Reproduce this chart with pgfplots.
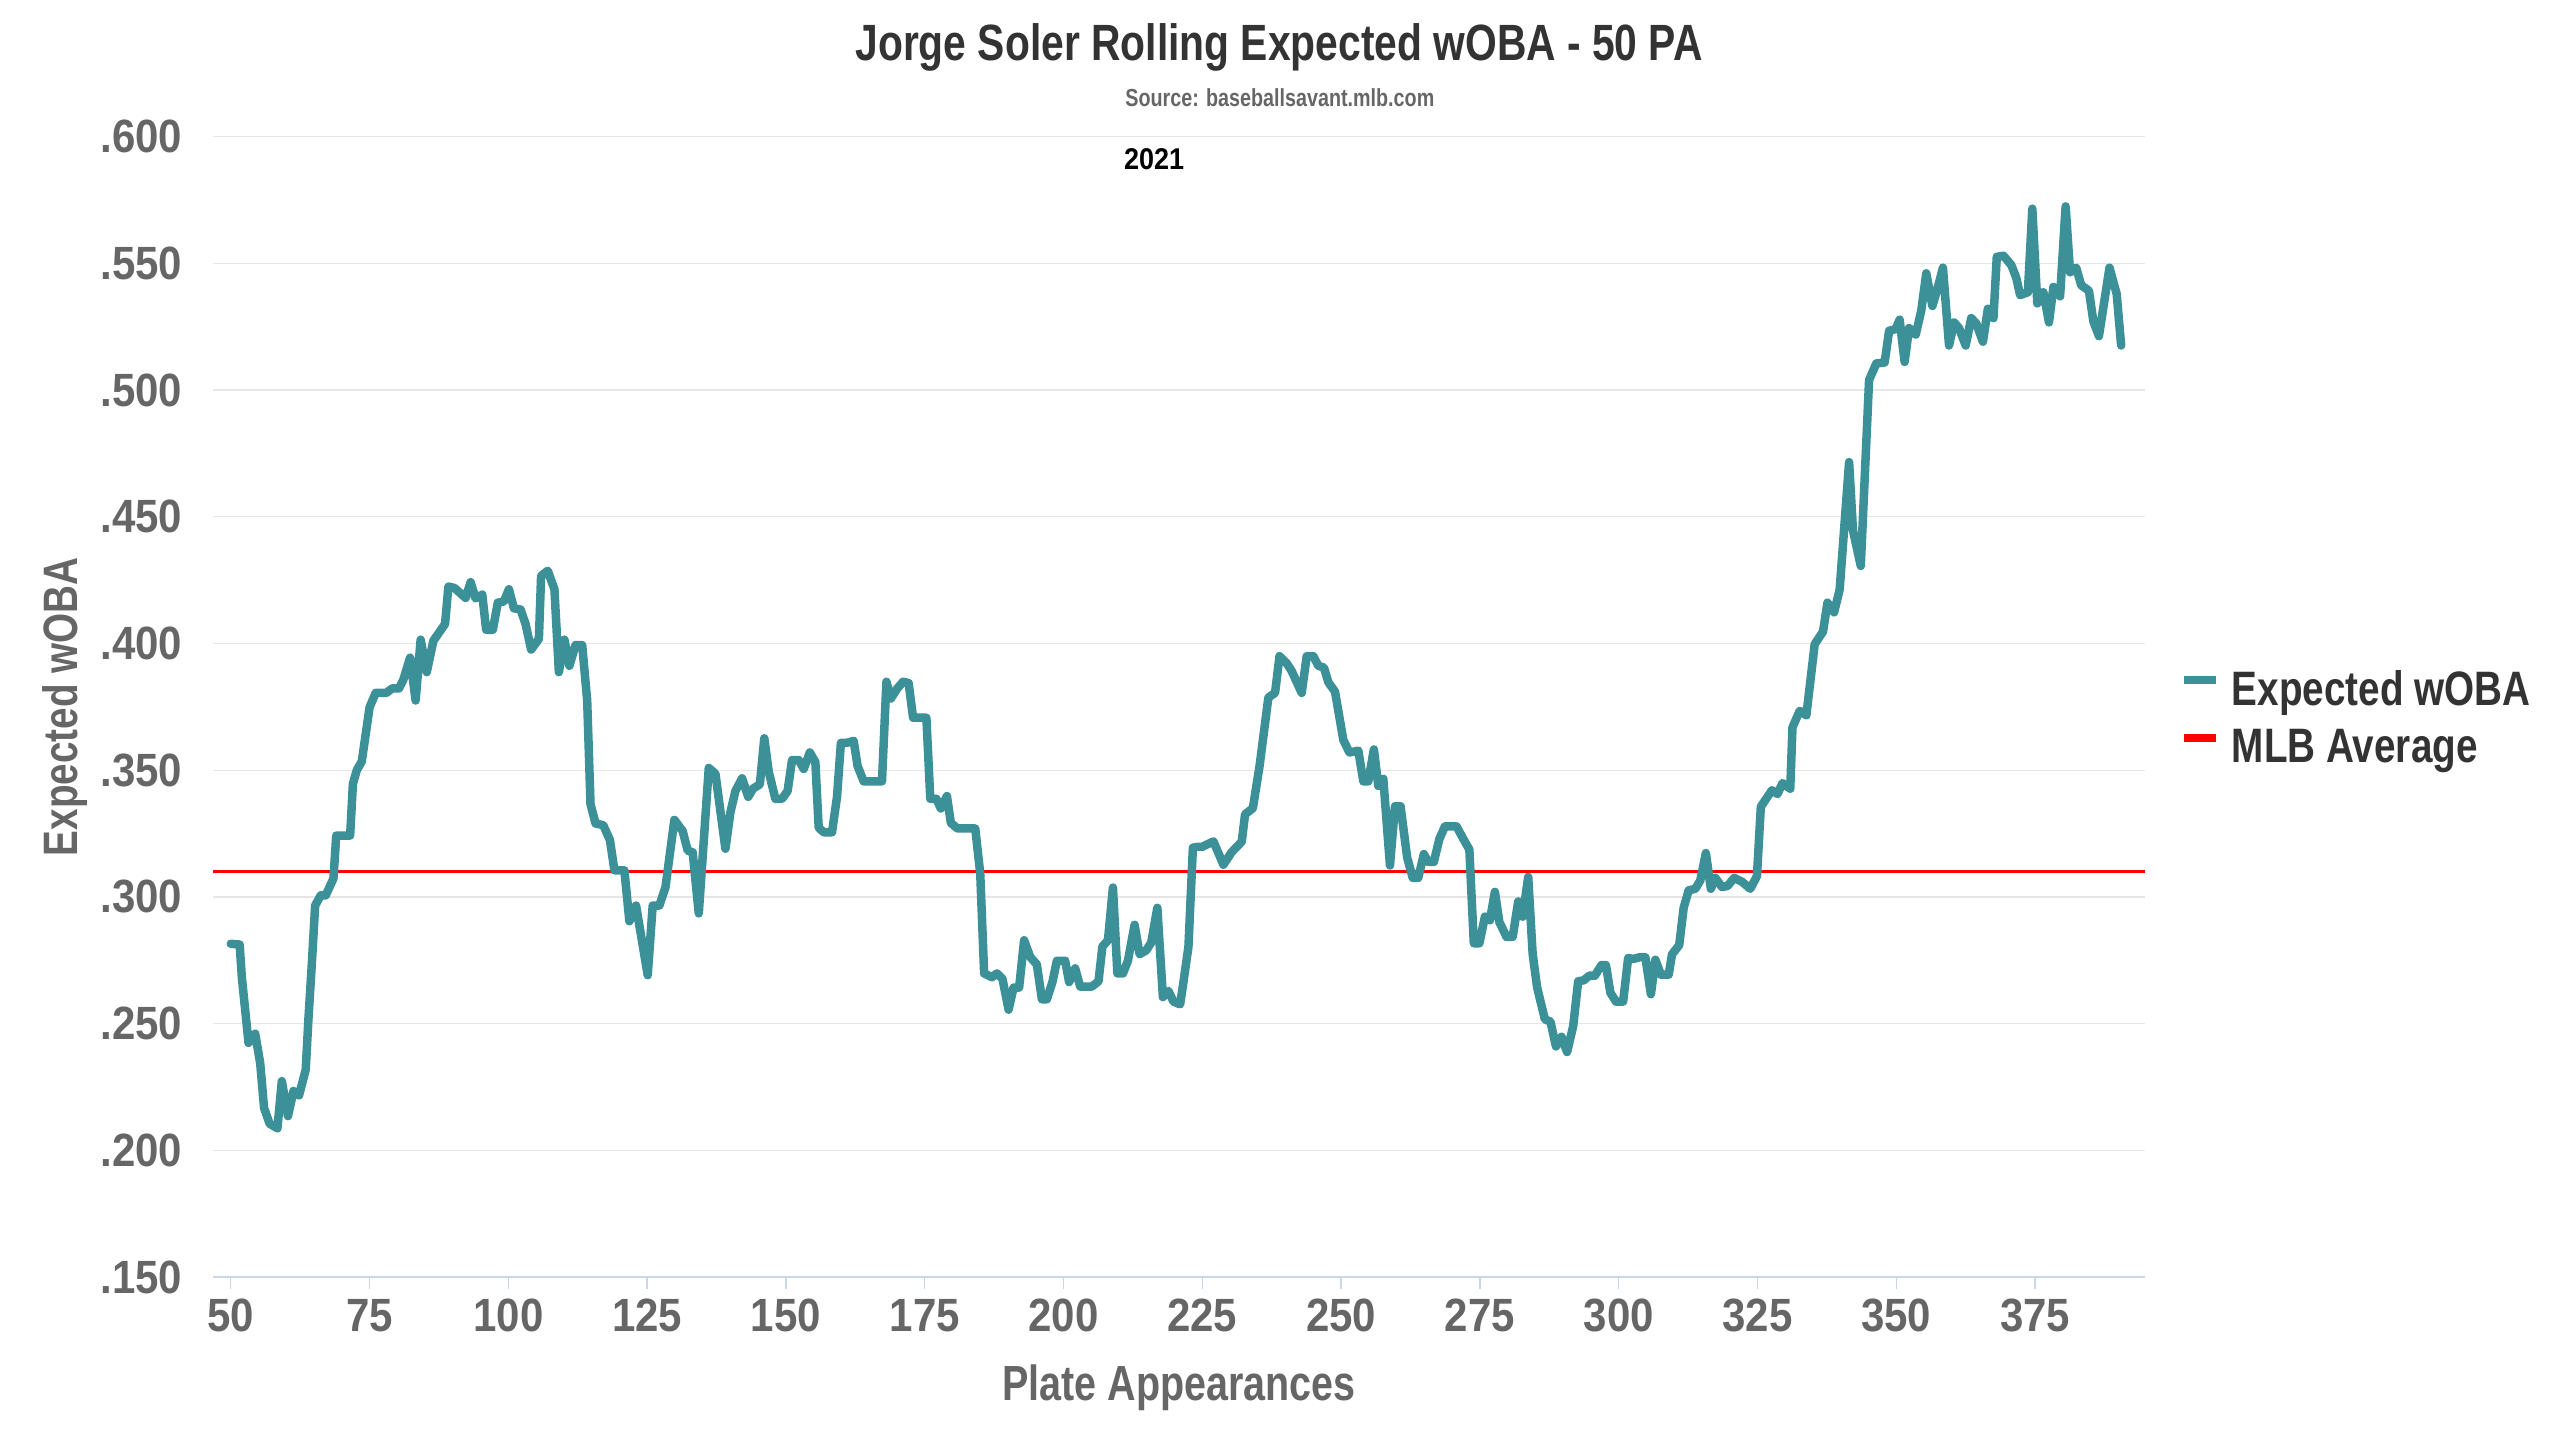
\documentclass[border=0pt]{standalone}
\usepackage{pgfplots}
\pgfplotsset{compat=1.18}
\usepackage{fontspec}
\newfontfamily\condfont{Liberation Sans}[FakeStretch=0.8]
\newfontfamily\digitfont{Liberation Sans}[FakeStretch=0.9]
\definecolor{teal1}{HTML}{3C9098}
\definecolor{c333}{HTML}{333333}
\definecolor{c666}{HTML}{666666}
\definecolor{gridc}{HTML}{E6E6E6}
\definecolor{axisc}{HTML}{CCD6EB}
\begin{document}
\begin{tikzpicture}
\path[use as bounding box] (-63.9pt,-48.9pt) rectangle (704.1pt,383.1pt);
\begin{axis}[
  at={(0,0)}, anchor=south west,
  scale only axis, width=579.6pt, height=342.1pt,
  xmin=46.8, xmax=394.8, ymin=0.15, ymax=0.6,
  axis x line*=bottom, axis y line*=left,
  x axis line style={draw=axisc, line width=0.5pt, -},
  y axis line style={draw=none},
  xtick={50,75,100,125,150,175,200,225,250,275,300,325,350,375},
  xticklabels={50,75,100,125,150,175,200,225,250,275,300,325,350,375},
  ytick={0.15,0.2,0.25,0.3,0.35,0.4,0.45,0.5,0.55,0.6},
  yticklabels={.150,.200,.250,.300,.350,.400,.450,.500,.550,.600},
  tick align=outside,
  xtick style={draw=axisc, line width=0.4pt},
  ytick style={draw=none},
  major tick length=3.6pt,
  ymajorgrids, major grid style={draw=gridc, line width=0.4pt},
  ticklabel style={font=\digitfont\bfseries\fontsize{14}{14}\selectfont, text=c666, inner sep=0pt},
  xticklabel style={anchor=base, yshift=-12.8pt},
  yticklabel style={anchor=east, xshift=-5.4pt},
  xlabel={Plate Appearances},
  xlabel style={at={(axis description cs:0.5,-0.1084)}, anchor=base, inner sep=0pt, font=\condfont\bfseries\fontsize{14.8}{14.8}\selectfont, text=c666},
  ylabel={Expected wOBA},
  ylabel style={at={(axis description cs:-0.0702,0.5)}, rotate=0, anchor=base, inner sep=0pt, font=\condfont\bfseries\fontsize{14.5}{14.5}\selectfont, text=c666},
  legend cell align=left,
  legend style={at={(axis description cs:1.0181,0.4876)}, anchor=west, draw=none, fill=none,
    inner sep=0pt, outer sep=0pt, row sep=3.4pt, column sep=3.6pt,
    font=\condfont\bfseries\fontsize{14.5}{14.5}\selectfont, text=c333,
    nodes={inner sep=0pt, text height=10.8pt, text depth=3pt}},
  legend image code/.code={\draw[#1, line width=2.4pt, line cap=butt] (0pt,3.6pt) -- (9.6pt,3.6pt);},
  clip=false,
]
\addplot[red, line width=0.65pt, forget plot] coordinates {(46.8,0.31) (394.8,0.31)};
\addplot[teal1, line width=2.55pt, line join=round, line cap=round, forget plot] coordinates {
(50,.2815) (51.6,.2812) (52,.2682) (53.2,.2424) (54.4,.2460) (55.3,.2344) (56,.2167) (57,.2105)
(58.4,.2087) (59.2,.2273) (60.3,.2135) (61.3,.2234) (62.3,.2217) (63.5,.2318) (64,.2522) (64.6,.2735)
(65.2,.2966) (66.2,.3006) (67.1,.3006) (68.5,.3073) (69,.3242) (71.5,.3242) (72,.3446) (72.7,.3500)
(73.6,.3535) (75,.3748) (76.1,.3805) (78,.3805) (79.1,.3823) (80.3,.3823) (81.1,.3858) (82.3,.3944)
(83.3,.3775) (84.2,.4015) (85.3,.3887) (86.5,.4011) (88.6,.4077) (89.2,.4225) (90.3,.4219) (92.3,.4180)
(93.2,.4242) (94.1,.4178) (95.3,.4193) (96,.4054) (97.2,.4054) (98.1,.4161) (99.2,.4166) (100.1,.4214)
(101,.4139) (102.2,.4134) (103.1,.4077) (104.1,.3976) (105.5,.4018) (105.9,.4267) (107.1,.4287) (108.3,.4214)
(109.1,.3887) (110.1,.4015) (111,.3912) (112.1,.3994) (113.3,.3994) (114.2,.3775) (114.8,.3366) (115.7,.3290)
(117.1,.3283) (118.3,.3224) (119.1,.3105) (120.9,.3105) (121.8,.2904) (123,.2966) (125.1,.2691) (126,.2966)
(127.2,.2966) (128.3,.3038) (129.9,.3304) (131.4,.3260) (132.3,.3183) (133.2,.3176)
(134.3,.2935) (136.1,.3509) (137.3,.3486) (139.1,.3190) (140.0,.3334) (140.9,.3418) (142.1,.3468) (143.2,.3395)
(144.1,.3428) (145.3,.3444) (146.1,.3626) (146.9,.3494) (148.1,.3387) (149.3,.3387) (150.3,.3418) (151.1,.3540)
(152.3,.3540) (153.2,.3505) (154.3,.3570) (155.3,.3532) (155.9,.3273) (156.8,.3255) (158.3,.3255) (159.2,.3395)
(159.9,.3608) (161.0,.3608) (162.2,.3616) (162.9,.3517) (164.0,.3456) (167.3,.3456) (168.1,.3849) (168.9,.3783)
(170.0,.3821) (171.1,.3849) (172.1,.3844) (172.9,.3707) (175.3,.3707) (176.0,.3387) (177.1,.3387) (177.9,.3349)
(179.0,.3398) (179.7,.3292) (180.9,.3270) (184.1,.3270) (184.7,.3151) (185.0,.3091) (185.7,.2698) (187.1,.2683)
(188.0,.2698) (189.0,.2677) (190.1,.2555) (191.0,.2642) (192.0,.2642) (192.9,.2829) (194.0,.2763) (195.2,.2733)
(196.1,.2596) (197.0,.2596) (198.0,.2664) (198.8,.2748) (200.3,.2748) (201.0,.2664) (202.1,.2718) (203.0,.2646)
(205.1,.2646) (206.3,.2667) (207.0,.2804) (208.0,.2829) (208.9,.3037) (209.7,.2698) (210.7,.2698) (211.6,.2748)
(212.8,.2890) (213.7,.2774) (214.9,.2789) (215.8,.2820) (216.9,.2957)
(217.9,.2605) (218.9,.2629) (219.8,.2587) (221.0,.2576) (221.6,.2664) (222.5,.2803) (223.3,.3194) (224.0,.3197)
(224.9,.3197) (227.0,.3219) (228.8,.3127) (230.3,.3177) (232.1,.3218) (232.7,.3326) (234.1,.3350) (235.3,.3515)
(236.9,.3787) (238.1,.3805) (238.9,.3950) (240.2,.3922) (241.1,.3891) (242.9,.3805) (243.8,.3950) (245.0,.3950)
(245.9,.3912) (246.9,.3905) (247.7,.3847) (248.9,.3810) (250.4,.3619) (251.5,.3570) (253.1,.3577) (254.0,.3456)
(254.9,.3456) (255.9,.3582) (256.7,.3438) (257.6,.3466) (258.8,.3124) (259.7,.3358) (260.7,.3358) (261.9,.3155)
(262.9,.3075) (263.9,.3075) (264.9,.3169) (265.7,.3138) (266.7,.3138) (267.7,.3229) (268.7,.3278) (270.8,.3278)
(272.0,.3229) (273.1,.3187) (273.9,.2817) (274.9,.2817) (275.9,.2922) (276.8,.2908) (277.7,.3020) (278.5,.2901)
(279.8,.2842) (280.9,.2842) (281.9,.2982) (282.7,.2922) (283.7,.3079) (284.5,.2775) (285.3,.2643) (286.7,.2517)
(287.7,.2508) (288.7,.2410) (289.7,.2448) (290.7,.2388) (291.8,.2490) (292.7,.2667) (293.7,.2671) (294.7,.2689)
(295.7,.2689) (296.9,.2731) (297.7,.2731) (298.5,.2622) (299.5,.2587) (300.8,.2587) (301.7,.2759) (302.6,.2755)
(303.8,.2762) (304.8,.2762)
(305.8,.2616) (306.6,.2752) (307.6,.2693) (309.0,.2693) (309.6,.2773) (310.9,.2810) (311.7,.2957) (312.6,.3026)
(313.8,.3032) (314.7,.3065) (315.7,.3173) (316.6,.3032) (317.4,.3075) (318.6,.3039) (319.6,.3043) (320.8,.3075)
(322.2,.3060) (323.7,.3032) (324.9,.3082) (325.6,.3356) (327.6,.3421) (328.6,.3406) (329.5,.3449) (330.9,.3427)
(331.3,.3669) (332.6,.3734) (333.8,.3717) (335.3,.3997) (336.8,.4047) (337.6,.4161) (338.8,.4123) (339.8,.4213)
(341.5,.4716) (342.2,.4446) (343.6,.4306) (345.1,.5040) (346.4,.5105) (347.9,.5109) (348.7,.5234) (349.9,.5241)
(350.6,.5278) (351.5,.5111) (352.3,.5245) (353.5,.5219) (354.5,.5314) (355.4,.5461) (356.5,.5332) (357.5,.5407)
(358.4,.5483) (359.5,.5176) (360.4,.5267) (361.3,.5245) (362.5,.5176) (363.5,.5284) (364.4,.5263) (365.6,.5191)
(366.5,.5321) (367.5,.5284) (368.1,.5526) (369.3,.5530) (370.7,.5494) (371.6,.5444) (372.3,.5375) (373.7,.5386)
(374.5,.5716) (375.4,.5342) (376.5,.5386) (377.5,.5267) (378.3,.5407) (379.5,.5370) (380.5,.5725) (381.3,.5465)
(382.4,.5483) (383.3,.5414) (384.7,.5392) (385.5,.5271) (386.5,.5213) (388.4,.5483) (389.7,.5379) (390.5,.5176)
};
\addlegendimage{teal1}
\addlegendentry{Expected wOBA}
\addlegendimage{red}
\addlegendentry{MLB Average}
\node[anchor=base, inner sep=0pt, font=\condfont\bfseries\fontsize{15.3}{15.3}\selectfont, text=c333] at (rel axis cs:0.5518,1.0664) {Jorge Soler Rolling Expected wOBA - 50 PA};
\node[anchor=base, inner sep=0pt, font=\condfont\bfseries\fontsize{7.4}{7.4}\selectfont, text=c666] at (rel axis cs:0.5522,1.0269) {Source: baseballsavant.mlb.com};
\node[anchor=base, inner sep=0pt, font=\digitfont\bfseries\fontsize{9}{9}\selectfont, text=black] at (rel axis cs:0.4871,0.9708) {2021};
\end{axis}
\end{tikzpicture}
\end{document}
